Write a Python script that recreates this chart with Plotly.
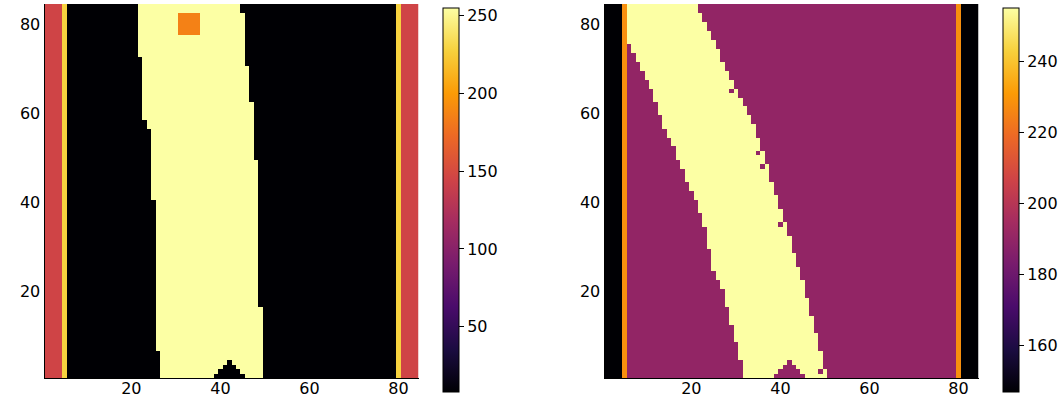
import plotly.graph_objects as go
from plotly.colors import sequential

N = 84
TICKS_XY = [20, 40, 60, 80]
TICKS_CB_A = [50, 100, 150, 200, 250]
TICKS_CB_B = [160, 180, 200, 220, 240]
INFERNO = sequential.Inferno

# Left panel values
A_RANGE = (8, 255)
A_BG, A_EDGE_OUTER, A_EDGE_INNER, A_BAND, A_SQUARE = 8, 145, 228, 255, 186
# first / last bright column per row, row 1 first
A_START = [27]*6 + [26]*34 + [25]*16 + [24]*2 + [23]*14 + [22]*12
A_END = [49]*16 + [48]*33 + [47]*13 + [46]*8 + [45]*12 + [44]*2
A_SQUARE_COLS = [31, 32, 33, 34, 35]
A_SQUARE_ROWS = [78, 79, 80, 81, 82]

# Right panel values
B_RANGE = (147, 255)
B_OUTER, B_EDGE, B_BG, B_BAND = 147, 228, 190, 255
B_START = ([32]*4 + [31]*4 + [30]*4 + [29]*4 + [28]*4 + [27]*2 + [26]*2 + [25]*5
           + [24]*5 + [23]*3 + [22]*3 + [21]*2 + [20]*2 + [19]*3 + [18]*2 + [17]*3
           + [16]*2 + [15]*2 + [14]*3 + [13]*3 + [12]*3 + [11]*2 + [10]*2 + [9]*2
           + [8]*2 + [7]*2 + [6]*9)
B_END = ([50]*2 + [49]*4 + [48]*4 + [47]*4 + [46]*4 + [45]*4 + [44]*3 + [43]*3
         + [42]*4 + [41]*3 + [40]*3 + [39]*3 + [38]*3 + [37]*4 + [36]*3 + [35]*3
         + [34]*3 + [33]*2 + [32]*2 + [31]*2 + [30]*2 + [29]*2 + [28]*2 + [27]*2
         + [26]*3 + [25]*2 + [24]*2 + [23]*2 + [22]*2 + [21]*2)
B_HOLES = [(2, 49), (35, 40), (48, 36), (51, 35), (65, 29)]

# Dark notch at the bottom of the band, both panels: (row, first col, last col)
NOTCH = [(1, 39, 45), (2, 40, 44), (3, 41, 43), (4, 42, 42)]

def panel_a():
    z = []
    for r in range(1, N + 1):
        row = [A_BG] * N
        for c in range(A_START[r-1], A_END[r-1] + 1):
            row[c-1] = A_BAND
        for rr, c0, c1 in NOTCH:
            if rr == r:
                for c in range(c0, c1 + 1):
                    row[c-1] = A_BG
        if r in A_SQUARE_ROWS:
            for c in A_SQUARE_COLS:
                row[c-1] = A_SQUARE
        for c in [1, 2, 3, 4, 81, 82, 83, 84]:
            row[c-1] = A_EDGE_OUTER
        row[4] = A_EDGE_INNER
        row[79] = A_EDGE_INNER
        z.append(row)
    return z

def panel_b():
    z = []
    for r in range(1, N + 1):
        row = [B_BG] * N
        for c in range(B_START[r-1], B_END[r-1] + 1):
            row[c-1] = B_BAND
        for rr, c0, c1 in NOTCH:
            if rr == r:
                for c in range(c0, c1 + 1):
                    row[c-1] = B_BG
        for rr, c in B_HOLES:
            if rr == r:
                row[c-1] = B_BG
        for c in [1, 2, 3, 4, 81, 82, 83, 84]:
            row[c-1] = B_OUTER
        row[4] = B_EDGE
        row[79] = B_EDGE
        z.append(row)
    return z

W, H = 1060, 400
cols = list(range(1, N + 1))
FONT = dict(family="DejaVu Sans", size=16, color="black")

def cb(px, ticks):
    return dict(
        x=px / W, xanchor="left", xref="paper", thickness=16, thicknessmode="pixels",
        y=1 - 392 / H, yanchor="bottom", yref="paper", len=384 / H, lenmode="fraction",
        tickmode="array", tickvals=ticks, ticks="outside", ticklen=5, tickwidth=1,
        tickcolor="black", outlinecolor="black", outlinewidth=1, borderwidth=0,
        xpad=0, ypad=0, tickfont=FONT)

fig = go.Figure()
fig.add_trace(go.Heatmap(z=panel_a(), x=cols, y=cols, zmin=A_RANGE[0], zmax=A_RANGE[1],
                         colorscale=INFERNO, colorbar=cb(443, TICKS_CB_A), zsmooth=False,
                         xaxis="x", yaxis="y"))
fig.add_trace(go.Heatmap(z=panel_b(), x=cols, y=cols, zmin=B_RANGE[0], zmax=B_RANGE[1],
                         colorscale=INFERNO, colorbar=cb(1003, TICKS_CB_B), zsmooth=False,
                         xaxis="x2", yaxis="y2"))

common = dict(range=[0.5, 84.5], tickmode="array", tickvals=TICKS_XY, showgrid=False,
              zeroline=False, showline=True, linecolor="black", linewidth=1, ticks="",
              tickfont=FONT)
dom_y = [1 - 378 / H, 1 - 4 / H]
fig.update_layout(
    width=W, height=H, margin=dict(l=0, r=0, t=0, b=0, autoexpand=False), autosize=False,
    paper_bgcolor="white", plot_bgcolor="white", showlegend=False,
    xaxis=dict(domain=[44.5 / W, 418.5 / W], anchor="y", ticklabelstandoff=-4, **common),
    yaxis=dict(domain=dom_y, anchor="x", **common),
    xaxis2=dict(domain=[604.5 / W, 978.5 / W], anchor="y2", ticklabelstandoff=-4, **common),
    yaxis2=dict(domain=dom_y, anchor="x2", **common),
)
fig.write_html("out.html", config=dict(displayModeBar=False),
               post_script="document.body.style.margin='0';document.body.style.overflow='hidden';")
